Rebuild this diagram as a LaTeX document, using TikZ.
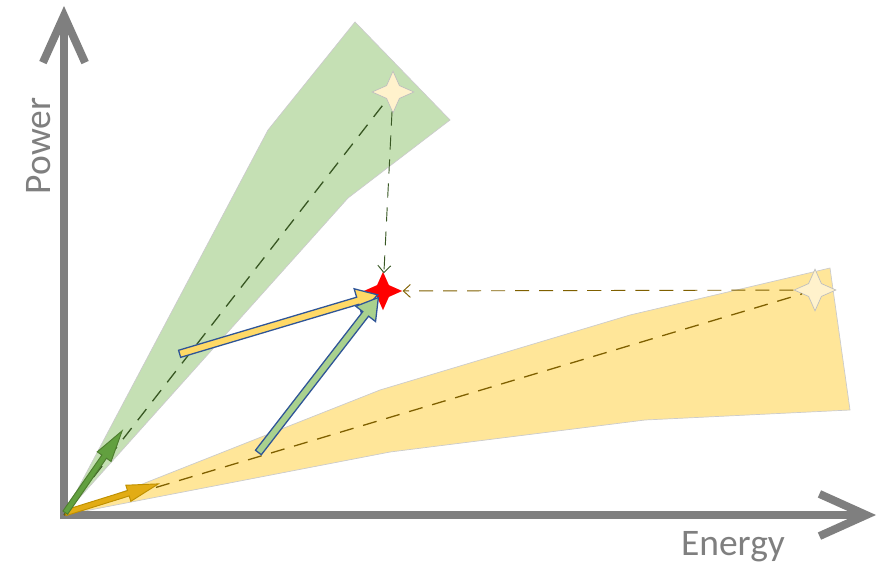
\documentclass[tikz,border=0pt]{standalone}
\usepackage{fontspec}
\setmainfont{Carlito}
\usetikzlibrary{arrows.meta, calc, shapes.geometric, shapes.arrows}

\definecolor{axisgray}{HTML}{7F7F7F}
\definecolor{bandgreen}{HTML}{C5E0B4}
\definecolor{bandyellow}{HTML}{FFE699}
\definecolor{gdash}{HTML}{385723}
\definecolor{ydash}{HTML}{7F6000}
\definecolor{arrowblue}{HTML}{2F5597}
\definecolor{lightstar}{HTML}{FFF2CC}
\definecolor{smallgold}{HTML}{E2AC14}
\definecolor{smallgoldline}{HTML}{BF9000}
\definecolor{smallgreen}{HTML}{62A03F}
\definecolor{smallgreenline}{HTML}{4E7D2F}
\definecolor{biggold}{HTML}{FFD966}
\definecolor{biggreen}{HTML}{A9D18E}

% block arrow from one named point to another
\newcommand{\blockarrow}[4]{%
  \path let \p1=($(#4)-(#3)$), \n1={atan2(\y1,\x1)}, \n2={veclen(\x1,\y1)} in
    node[#1, rotate=\n1, minimum height=\n2, anchor=tail] (#2) at (#3) {};}

\begin{document}
\begin{tikzpicture}[
  x=0.03cm, y=-0.03cm,
  axis/.style={line width=6.8pt, draw=axisgray, -{Straight Barb[length=40pt, width=36pt]}},
  axislabel/.style={text=axisgray, font=\fontsize{32}{38}\selectfont, inner sep=0pt},
  band/.style={draw=black!20, line width=0.6pt},
  guide/.style={dash pattern=on 12pt off 8.5pt, line width=1.1pt},
  sparkle/.style={star, star points=4, star point ratio=2.3, minimum size=1.25cm, inner sep=0pt},
  bigarrow/.style={single arrow, draw=arrowblue, line width=1.1pt, inner sep=0pt, inner ysep=2.6pt,
    minimum width=0pt, single arrow head extend=7.5pt, single arrow tip angle=62},
  smallarrow/.style={single arrow, line width=0.8pt, inner sep=0pt, inner ysep=2pt,
    minimum width=0pt, single arrow head extend=4.8pt, single arrow tip angle=30}
]
\useasboundingbox (0,0) rectangle (877,563);

% ranges
\draw[band, fill=bandgreen] (64,515) -- (268,130) -- (355,22) -- (450,120) -- (348,198) -- cycle;
\draw[band, fill=bandyellow] (64,515) -- (380,390) -- (630,315) -- (830,268) -- (850,410)
  -- (645,420) -- (390,452) -- cycle;

% axes
\coordinate (O) at (64,515);
\coordinate (ytop) at (64,6);
\coordinate (xend) at (876,515);
\coordinate (ybot) at (64,519);
\coordinate (xbeg) at (60,515);
\draw[axis] (ybot) -- (ytop);
\draw[axis] (xbeg) -- (xend);
\node[axislabel, rotate=90, anchor=base] (power) at (50,146) {Power};
\node[axislabel, anchor=base] (energy) at (733,555) {Energy};

% points
\node[sparkle, fill=lightstar, draw=black!25, line width=0.6pt] (pgreen) at (393,92) {};
\node[sparkle, fill=lightstar, draw=black!25, line width=0.6pt] (pyellow) at (815,290) {};
\node[sparkle, fill=red, minimum size=1.15cm] (target) at (383,291) {};

% guides
\draw[guide, draw=gdash] (O) -- (pgreen);
\draw[guide, draw=ydash] (O) -- (pyellow);
\draw[guide, draw=gdash, line width=0.8pt, -{Straight Barb[length=6pt, width=11pt]}] (pgreen) -- (target);
\draw[guide, draw=ydash, line width=0.8pt, -{Straight Barb[length=6pt, width=11pt]}] (pyellow) -- (target);

% small vectors
\coordinate (gs) at (65,513);
\coordinate (gt) at (122,431);
\coordinate (ys) at (65,513);
\coordinate (yt) at (158,484);
\blockarrow{smallarrow, fill=smallgold, draw=smallgoldline}{vyellow}{ys}{yt}
\blockarrow{smallarrow, fill=smallgreen, draw=smallgreenline}{vgreen}{gs}{gt}

% big vectors
\coordinate (bys) at (179,354);
\coordinate (byt) at (377,295);
\coordinate (bgs) at (258,453);
\coordinate (bgt) at (378,298);
\blockarrow{bigarrow, fill=biggold}{myellow}{bys}{byt}
\blockarrow{bigarrow, fill=biggreen}{mgreen}{bgs}{bgt}

\end{tikzpicture}
\end{document}
